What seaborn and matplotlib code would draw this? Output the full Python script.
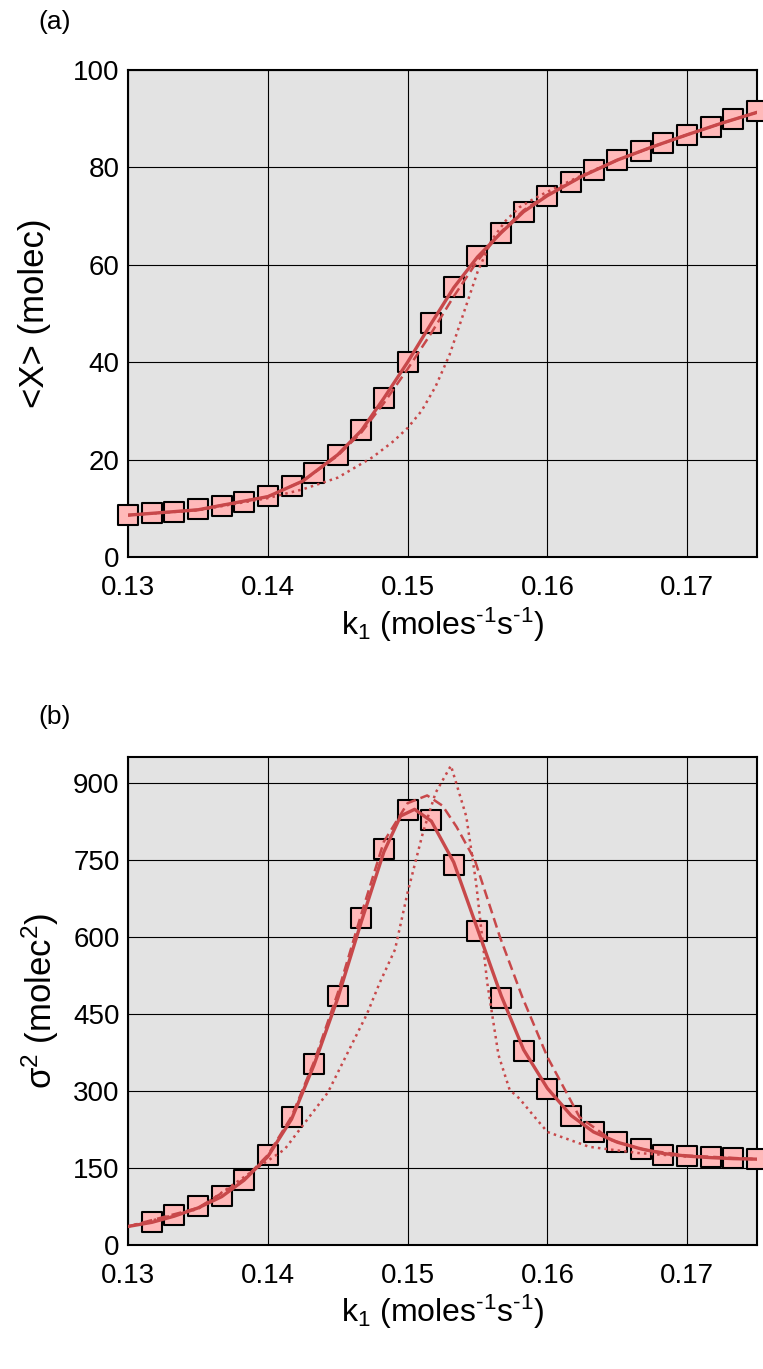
import numpy as np
import pandas as pd
import matplotlib
matplotlib.use('Agg')
import matplotlib.pyplot as plt
import seaborn as sns

# k1 values of the simulated points
k_sq = [0.1300, 0.1317, 0.1333, 0.1350, 0.1367, 0.1383, 0.1400, 0.1417, 0.1433, 0.1450,
        0.1467, 0.1483, 0.1500, 0.1517, 0.1533, 0.1550, 0.1567, 0.1583, 0.1600, 0.1617,
        0.1633, 0.1650, 0.1667, 0.1683, 0.1700, 0.1717, 0.1733, 0.1750]

# (a) mean <X>
mean_sq = [8.7, 9.0, 9.3, 9.8, 10.5, 11.3, 12.5, 14.6, 17.2, 21.0,
           26.0, 32.6, 40.0, 48.0, 55.5, 61.8, 66.5, 70.8, 74.2, 76.9,
           79.4, 81.5, 83.3, 85.0, 86.7, 88.3, 89.9, 91.5]
k_a_solid = [0.1300, 0.1350, 0.1400, 0.1425, 0.1450, 0.1467, 0.1483, 0.1500, 0.1517, 0.1533,
             0.1550, 0.1567, 0.1583, 0.1600, 0.1625, 0.1650, 0.1675, 0.1700, 0.1725, 0.1750]
mean_solid = [8.6, 9.7, 12.4, 15.6, 21.0, 26.0, 32.6, 40.0, 48.0, 55.3,
              61.6, 66.6, 70.9, 74.2, 78.2, 81.5, 84.2, 86.7, 89.1, 91.3]
k_a_dash = [0.1300, 0.1350, 0.1400, 0.1425, 0.1450, 0.1467, 0.1483, 0.1500, 0.1517, 0.1533,
            0.1550, 0.1567, 0.1583, 0.1600, 0.1625, 0.1650, 0.1675, 0.1700, 0.1725, 0.1750]
mean_dash = [8.6, 9.7, 12.4, 15.6, 20.8, 25.6, 31.6, 38.6, 46.0, 53.5,
             60.8, 66.8, 71.2, 74.4, 78.2, 81.5, 84.2, 86.7, 89.1, 91.3]
k_a_dot = [0.1300, 0.1350, 0.1400, 0.1425, 0.1450, 0.1475, 0.1490, 0.1500, 0.1510, 0.1520,
           0.1530, 0.1540, 0.1550, 0.1560, 0.1570, 0.1580, 0.1590, 0.1600, 0.1625, 0.1650,
           0.1675, 0.1700, 0.1725, 0.1750]
mean_dot = [8.6, 9.6, 12.1, 13.9, 16.3, 20.5, 23.8, 26.5, 30.0, 35.0,
            41.5, 50.0, 58.5, 65.0, 69.0, 71.8, 73.5, 75.0, 78.4, 81.5,
            84.2, 86.7, 89.1, 91.3]

# (b) variance sigma^2
k_sq_b = k_sq[1:]
var_sq = [45, 59, 75, 96, 127, 175, 250, 353, 484,
          637, 771, 846, 828, 739, 611, 480, 378, 304, 251,
          220, 200, 186, 176, 173, 171, 169, 168]
k_b_solid = [0.1300, 0.1317, 0.1333, 0.1350, 0.1367, 0.1383, 0.1400, 0.1417, 0.1433, 0.1450,
             0.1467, 0.1483, 0.1495, 0.1505, 0.1517, 0.1533, 0.1550, 0.1567, 0.1583, 0.1600,
             0.1617, 0.1633, 0.1650, 0.1667, 0.1683, 0.1700, 0.1717, 0.1733, 0.1750]
var_solid = [36, 44, 56, 72, 94, 126, 172, 245, 350, 480,
             630, 765, 835, 848, 825, 745, 615, 485, 380, 305,
             252, 220, 200, 187, 178, 173, 170, 168, 167]
k_b_dash = [0.1300, 0.1350, 0.1383, 0.1400, 0.1417, 0.1433, 0.1450, 0.1467, 0.1483, 0.1500,
            0.1514, 0.1525, 0.1535, 0.1548, 0.1566, 0.1582, 0.1600, 0.1623, 0.1646, 0.1670,
            0.1700, 0.1750]
var_dash = [36, 72, 128, 175, 250, 356, 490, 645, 785, 860,
            875, 855, 814, 750, 600, 483, 366, 249, 204, 185,
            174, 167]
k_b_dot = [0.1300, 0.1350, 0.1394, 0.1412, 0.1443, 0.1471, 0.1480, 0.1491, 0.1500, 0.1511,
           0.1520, 0.1531, 0.1542, 0.1549, 0.1557, 0.1565, 0.1573, 0.1580, 0.1590, 0.1600,
           0.1630, 0.1665, 0.1700, 0.1750]
var_dot = [36, 70, 153, 186, 297, 450, 510, 575, 686, 803,
           880, 933, 834, 705, 510, 370, 302, 285, 252, 220,
           191, 179, 172, 167]

red = '#c8484a'
pink = '#ffb9b9'

sns.set_style('whitegrid', {'axes.facecolor': '#e3e3e3', 'grid.color': 'black',
                            'axes.edgecolor': 'black', 'grid.linewidth': 1.5,
                            'text.color': 'black', 'axes.labelcolor': 'black'})
plt.rcParams['font.family'] = ['Liberation Sans', 'DejaVu Sans']
plt.rcParams['mathtext.fontset'] = 'custom'
plt.rcParams['mathtext.rm'] = 'Liberation Sans'
plt.rcParams['mathtext.it'] = 'Liberation Sans'
plt.rcParams['mathtext.default'] = 'regular'

fig = plt.figure(figsize=(7.63, 13.69), dpi=100)
ax1 = fig.add_axes([0.1678, 0.5931, 0.8244, 0.3558])
ax2 = fig.add_axes([0.1678, 0.0906, 0.8244, 0.3565])

hy = '\u2010'
xlab = 'k$_1$ (moles$^{' + hy + '1}$s$^{' + hy + '1}$)'


def draw(ax, ksq, ysq, curves):
    sns.scatterplot(x=ksq, y=ysq, ax=ax, marker='s', s=190, color=pink,
                    edgecolor='black', linewidth=1.5, zorder=3, clip_on=False)
    for kk, yy, ls, lw in curves:
        sns.lineplot(x=kk, y=yy, ax=ax, color=red, linestyle=ls, linewidth=lw,
                     zorder=4, sort=False)
    ax.set_xlim(0.13, 0.175)
    ax.set_xticks([0.13, 0.14, 0.15, 0.16, 0.17])
    ax.set_xticklabels(['0.13', '0.14', '0.15', '0.16', '0.17'])
    ax.tick_params(labelsize=20, length=0, colors='black')
    ax.tick_params(axis='x', pad=13)
    ax.tick_params(axis='y', pad=6)
    for sp in ax.spines.values():
        sp.set_linewidth(1.5)
    ax.set_xlabel(xlab, fontsize=23, labelpad=3)


draw(ax1, k_sq, mean_sq, [(k_a_dot, mean_dot, ':', 1.8),
                          (k_a_dash, mean_dash, (0, (4, 2)), 1.8),
                          (k_a_solid, mean_solid, '-', 2.4)])
ax1.set_ylim(0, 100)
ax1.set_yticks([0, 20, 40, 60, 80, 100])
ax1.set_ylabel('<X> (molec)', fontsize=25, labelpad=16)

draw(ax2, k_sq_b, var_sq, [(k_b_dot, var_dot, ':', 1.8),
                           (k_b_dash, var_dash, (0, (4, 2)), 1.8),
                           (k_b_solid, var_solid, '-', 2.4)])
ax2.set_ylim(0, 950)
ax2.set_yticks([0, 150, 300, 450, 600, 750, 900])
ax2.set_ylabel('σ$^2$ (molec$^2$)', fontsize=25, labelpad=9)

fig.text(0.050, 0.984, '(a)', fontsize=19, va='center', ha='left')
fig.text(0.050, 0.476, '(b)', fontsize=19, va='center', ha='left')

fig.savefig('out.png', dpi=100)
